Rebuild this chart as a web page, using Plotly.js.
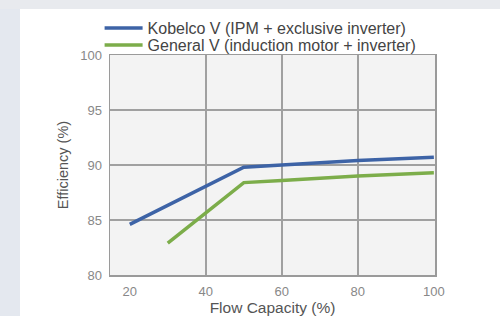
<!DOCTYPE html>
<html>
<head>
<meta charset="utf-8">
<script src="https://cdn.plot.ly/plotly-3.0.1.min.js"></script>
<style>
html,body{margin:0;padding:0;width:500px;height:316px;overflow:hidden;background:#e4e8ef;}
#top{position:absolute;left:0;top:0;width:500px;height:9px;background:#e8eaee;}
#chart{position:absolute;left:20px;top:9px;width:480px;height:307px;background:#fff;}
</style>
</head>
<body>
<div id="top"></div>
<div id="chart"></div>
<script>
var flowKobelco = [20, 50, 60, 80, 100];
var effKobelco = [84.6, 89.8, 90.0, 90.4, 90.7];
var flowGeneral = [30, 50, 60, 80, 100];
var effGeneral = [82.9, 88.4, 88.6, 89.0, 89.3];
var xTicks = [20, 40, 60, 80, 100];
var xGrid = [40, 60, 80];
var yTicks = [80, 85, 90, 95, 100];
var seriesNames = ["Kobelco V (IPM + exclusive inverter)", "General V (induction motor + inverter)"];

var traces = [
  {x: flowKobelco, y: effKobelco, name: seriesNames[0], type: 'scatter', mode: 'lines',
   line: {color: '#3d63a6', width: 3.5}, legend: 'legend'},
  {x: flowGeneral, y: effGeneral, name: seriesNames[1], type: 'scatter', mode: 'lines',
   line: {color: '#7cad4a', width: 3.5}, legend: 'legend2'},
  {x: [xGrid[0]], y: [yTicks[0]], xaxis: 'x2', yaxis: 'y', mode: 'markers',
   marker: {opacity: 0}, showlegend: false, hoverinfo: 'skip'}
];

var legendBase = {x: -0.032, xanchor: 'left', yanchor: 'middle', orientation: 'v',
  bgcolor: 'rgba(0,0,0,0)', font: {size: 16, color: '#444'}, itemwidth: 38};

var layout = {
  width: 480, height: 307,
  margin: {l: 90, r: 65, t: 46, b: 41, autoexpand: false},
  paper_bgcolor: '#ffffff',
  plot_bgcolor: '#f3f3f3',
  font: {family: 'Liberation Sans, Arial, sans-serif', size: 13, color: '#555'},
  showlegend: true,
  legend: Object.assign({}, legendBase, {y: 1 + (46 - 19) / 220}),
  legend2: Object.assign({}, legendBase, {y: 1 + (46 - 36) / 220}),
  xaxis: {range: [14.8, 100.3], tickvals: xTicks, showgrid: false, zeroline: false,
          showline: true, linecolor: '#9a9a9a', linewidth: 1.5, mirror: true,
          ticks: '', ticklabelstandoff: 4, tickfont: {size: 13, color: '#888'},
          title: {text: 'Flow Capacity (%)', font: {size: 15.5, color: '#555'}, standoff: 1}},
  xaxis2: {range: [14.8, 100.3], overlaying: 'x', tickvals: xGrid, showticklabels: false,
           showgrid: true, gridcolor: '#a0a0a0', gridwidth: 1.5, zeroline: false, ticks: ''},
  yaxis: {range: [80, 100], tickvals: yTicks, showgrid: true, gridcolor: '#a0a0a0', gridwidth: 1.5,
          zeroline: false, showline: true, linecolor: '#9a9a9a', linewidth: 1.5, mirror: true,
          ticks: '', ticklabelstandoff: 4, tickfont: {size: 13, color: '#888'},
          title: {text: 'Efficiency (%)', font: {size: 14.5, color: '#555'}, standoff: 8}}
};

Plotly.newPlot('chart', traces, layout, {displayModeBar: false, staticPlot: true});
</script>
</body>
</html>
